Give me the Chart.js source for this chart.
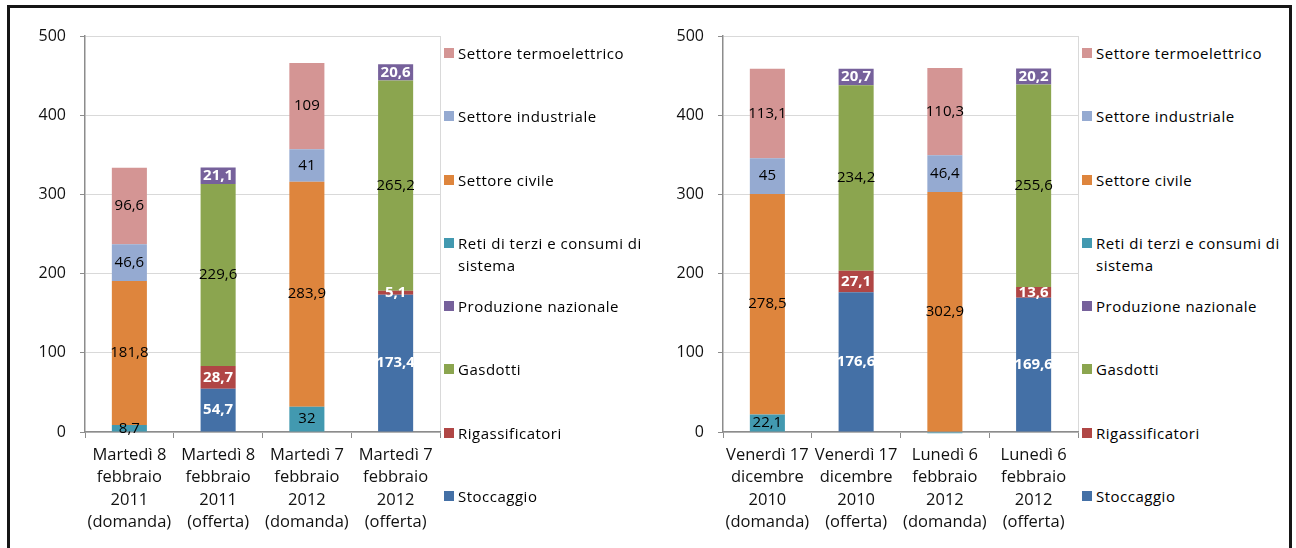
<!DOCTYPE html>
<html>
<head>
<meta charset="utf-8">
<script src="https://cdn.jsdelivr.net/npm/chart.js@4.4.1/dist/chart.umd.min.js"></script>
<style>
  body { margin: 0; width: 1296px; height: 548px; overflow: hidden; background: #fff; font-family: "Open Sans", sans-serif; }
  #frame { position: absolute; left: 7px; top: 5px; width: 1279px; height: 580px; border: 3px solid #161616; box-sizing: content-box; }
  canvas { position: absolute; top: 0; }
  .legend { position: absolute; top: 42px; width: 204px; font-size: 15px; line-height: 22.4px; letter-spacing: 0.5px; color: #000; }
  .legend .item { height: 63.3px; display: flex; align-items: flex-start; }
  .legend .box { width: 10px; height: 10px; margin-top: 6px; margin-right: 4px; flex: none; }
</style>
</head>
<body>
<div id="frame"></div>
<canvas id="leftChart" width="441" height="548" style="left:0"></canvas>
<canvas id="rightChart" width="441" height="548" style="left:638px"></canvas>
<div class="legend" id="leftLegend" style="left:444px"></div>
<div class="legend" id="rightLegend" style="left:1082px"></div>

<script>
// series, bottom of the stack first
const seriesNames = ['Stoccaggio', 'Rigassificatori', 'Gasdotti', 'Produzione nazionale',
  'Reti di terzi e consumi di sistema', 'Settore civile', 'Settore industriale', 'Settore termoelettrico'];
const seriesColors = ['#4470A6', '#B04645', '#8BA54F', '#76619B', '#4299B0', '#DE853D', '#95AAD1', '#D49594'];
const labelColors = ['#fff', '#fff', '#000', '#fff', '#000', '#000', '#000', '#000'];

const leftCategories = [
  ['Martedì 8', 'febbraio', '2011', '(domanda)'],
  ['Martedì 8', 'febbraio', '2011', '(offerta)'],
  ['Martedì 7', 'febbraio', '2012', '(domanda)'],
  ['Martedì 7', 'febbraio', '2012', '(offerta)']
];
const rightCategories = [
  ['Venerdì 17', 'dicembre', '2010', '(domanda)'],
  ['Venerdì 17', 'dicembre', '2010', '(offerta)'],
  ['Lunedì 6', 'febbraio', '2012', '(domanda)'],
  ['Lunedì 6', 'febbraio', '2012', '(offerta)']
];
const yTicks = [0, 100, 200, 300, 400, 500];

// left chart values
const leftStoccaggio   = [null, 54.7, null, 173.4];
const leftRigass       = [null, 28.7, null, 5.1];
const leftGasdotti     = [null, 229.6, null, 265.2];
const leftProduzione   = [null, 21.1, null, 20.6];
const leftReti         = [8.7, null, 32, null];
const leftCivile       = [181.8, null, 283.9, null];
const leftIndustriale  = [46.6, null, 41, null];
const leftTermo        = [96.6, null, 109, null];

// right chart values
const rightStoccaggio  = [null, 176.6, null, 169.6];
const rightRigass      = [null, 27.1, null, 13.6];
const rightGasdotti    = [null, 234.2, null, 255.6];
const rightProduzione  = [null, 20.7, null, 20.2];
const rightReti        = [22.1, null, -1.5, null];
const rightCivile      = [278.5, null, 302.9, null];
const rightIndustriale = [45, null, 46.4, null];
const rightTermo       = [113.1, null, 110.3, null];

const FONT = '"Open Sans", sans-serif';

const valueLabels = {
  id: 'valueLabels',
  afterDatasetsDraw(chart) {
    const ctx = chart.ctx;
    chart.data.datasets.forEach((ds, i) => {
      const meta = chart.getDatasetMeta(i);
      meta.data.forEach((bar, j) => {
        const v = ds.data[j];
        if (v == null || v <= 0) return;
        const white = ds.labelColor === '#fff';
        ctx.save();
        ctx.font = (white ? 'bold ' : '') + '15px ' + FONT;
        ctx.fillStyle = ds.labelColor;
        ctx.textAlign = 'center';
        ctx.textBaseline = 'middle';
        ctx.fillText(String(v).replace('.', ','), bar.x, (bar.y + bar.base) / 2);
        ctx.restore();
      });
    });
  }
};

function makeChart(id, labels, values) {
  return new Chart(document.getElementById(id), {
    type: 'bar',
    data: {
      labels: labels,
      datasets: seriesNames.map((name, i) => ({
        label: name,
        data: values[i],
        backgroundColor: seriesColors[i],
        labelColor: labelColors[i],
        barPercentage: 0.395,
        categoryPercentage: 1,
        clip: false
      }))
    },
    options: {
      responsive: false,
      animation: false,
      layout: { padding: { top: 36, right: 1, left: 0, bottom: 0 } },
      plugins: { legend: { display: false }, tooltip: { enabled: false } },
      scales: {
        x: {
          stacked: true,
          grid: {
            offset: true,
            color: c => c.index === undefined ? '#D9D9D9' : 'rgba(0,0,0,0)',
            tickColor: '#8C8C8C',
            tickLength: 6
          },
          border: { color: '#8C8C8C', width: 1.5 },
          ticks: { color: '#111', padding: 6, maxRotation: 0, autoSkip: false,
                   font: { family: FONT, size: 16.5, lineHeight: 1.36 } },
          afterFit: s => { s.height = 116; }
        },
        y: {
          stacked: true,
          min: yTicks[0],
          max: yTicks[yTicks.length - 1],
          afterBuildTicks: s => { s.ticks = yTicks.map(v => ({ value: v })); },
          grid: { color: '#D9D9D9', tickColor: '#8C8C8C', tickLength: 5 },
          border: { color: '#8C8C8C', width: 1.5 },
          ticks: { color: '#111', padding: 14, font: { family: FONT, size: 16 } },
          afterFit: s => { s.width = 85; }
        }
      }
    },
    plugins: [valueLabels]
  });
}

function buildLegend(id) {
  const el = document.getElementById(id);
  for (let i = seriesNames.length - 1; i >= 0; i--) {
    const item = document.createElement('div');
    item.className = 'item';
    const box = document.createElement('span');
    box.className = 'box';
    box.style.background = seriesColors[i];
    const txt = document.createElement('span');
    txt.textContent = seriesNames[i];
    item.appendChild(box);
    item.appendChild(txt);
    el.appendChild(item);
  }
}

makeChart('leftChart', leftCategories, [leftStoccaggio, leftRigass, leftGasdotti, leftProduzione,
  leftReti, leftCivile, leftIndustriale, leftTermo]);
makeChart('rightChart', rightCategories, [rightStoccaggio, rightRigass, rightGasdotti, rightProduzione,
  rightReti, rightCivile, rightIndustriale, rightTermo]);
buildLegend('leftLegend');
buildLegend('rightLegend');
</script>
</body>
</html>
